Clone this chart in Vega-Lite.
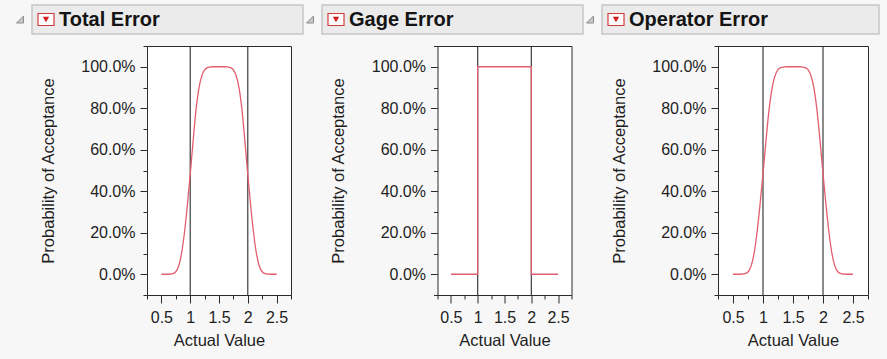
{
  "$schema": "https://vega.github.io/schema/vega-lite/v6.json",
  "background": "#f7f7f7",
  "padding": {"left": 13, "top": 4, "right": 10, "bottom": 16},
  "autosize": {"type": "pad"},
  "config": {
    "view": {"stroke": null},
    "font": "Liberation Sans",
    "axis": {
      "domain": false,
      "grid": false,
      "tickColor": "#2b2b2b",
      "tickWidth": 1,
      "labelColor": "#1e1e1e",
      "labelFont": "Liberation Sans",
      "labelFontSize": 16,
      "titleFont": "Liberation Sans",
      "titleFontSize": 16.5,
      "titleFontWeight": "normal",
      "titleColor": "#1e1e1e",
      "labelOverlap": false,
      "labelFlush": false
    }
  },
  "datasets": {
    "header": [{"part": "tri"}, {"part": "btn"}],
    "spacer": [],
    "limits": [{"limit": 1}, {"limit": 2}],
    "curves": [
      {"panel": "Total Error", "x": 0.5, "p": 0},
      {"panel": "Total Error", "x": 0.55, "p": 0},
      {"panel": "Total Error", "x": 0.6, "p": 0},
      {"panel": "Total Error", "x": 0.65, "p": 0.001},
      {"panel": "Total Error", "x": 0.7, "p": 0.003},
      {"panel": "Total Error", "x": 0.75, "p": 0.012},
      {"panel": "Total Error", "x": 0.8, "p": 0.04},
      {"panel": "Total Error", "x": 0.85, "p": 0.1},
      {"panel": "Total Error", "x": 0.9, "p": 0.2},
      {"panel": "Total Error", "x": 0.95, "p": 0.33},
      {"panel": "Total Error", "x": 1.0, "p": 0.48},
      {"panel": "Total Error", "x": 1.05, "p": 0.64},
      {"panel": "Total Error", "x": 1.1, "p": 0.79},
      {"panel": "Total Error", "x": 1.15, "p": 0.895},
      {"panel": "Total Error", "x": 1.2, "p": 0.955},
      {"panel": "Total Error", "x": 1.25, "p": 0.985},
      {"panel": "Total Error", "x": 1.3, "p": 0.996},
      {"panel": "Total Error", "x": 1.35, "p": 0.999},
      {"panel": "Total Error", "x": 1.4, "p": 1},
      {"panel": "Total Error", "x": 1.45, "p": 1},
      {"panel": "Total Error", "x": 1.5, "p": 1},
      {"panel": "Total Error", "x": 1.55, "p": 1},
      {"panel": "Total Error", "x": 1.6, "p": 1},
      {"panel": "Total Error", "x": 1.65, "p": 0.999},
      {"panel": "Total Error", "x": 1.7, "p": 0.996},
      {"panel": "Total Error", "x": 1.75, "p": 0.985},
      {"panel": "Total Error", "x": 1.8, "p": 0.955},
      {"panel": "Total Error", "x": 1.85, "p": 0.895},
      {"panel": "Total Error", "x": 1.9, "p": 0.79},
      {"panel": "Total Error", "x": 1.95, "p": 0.64},
      {"panel": "Total Error", "x": 2.0, "p": 0.48},
      {"panel": "Total Error", "x": 2.05, "p": 0.33},
      {"panel": "Total Error", "x": 2.1, "p": 0.2},
      {"panel": "Total Error", "x": 2.15, "p": 0.1},
      {"panel": "Total Error", "x": 2.2, "p": 0.04},
      {"panel": "Total Error", "x": 2.25, "p": 0.012},
      {"panel": "Total Error", "x": 2.3, "p": 0.003},
      {"panel": "Total Error", "x": 2.35, "p": 0.001},
      {"panel": "Total Error", "x": 2.4, "p": 0},
      {"panel": "Total Error", "x": 2.45, "p": 0},
      {"panel": "Total Error", "x": 2.5, "p": 0},
      {"panel": "Gage Error", "x": 0.5, "p": 0},
      {"panel": "Gage Error", "x": 1.0, "p": 0},
      {"panel": "Gage Error", "x": 1.0, "p": 1},
      {"panel": "Gage Error", "x": 2.0, "p": 1},
      {"panel": "Gage Error", "x": 2.0, "p": 0},
      {"panel": "Gage Error", "x": 2.5, "p": 0},
      {"panel": "Operator Error", "x": 0.5, "p": 0},
      {"panel": "Operator Error", "x": 0.55, "p": 0},
      {"panel": "Operator Error", "x": 0.6, "p": 0},
      {"panel": "Operator Error", "x": 0.65, "p": 0.001},
      {"panel": "Operator Error", "x": 0.7, "p": 0.003},
      {"panel": "Operator Error", "x": 0.75, "p": 0.011},
      {"panel": "Operator Error", "x": 0.8, "p": 0.038},
      {"panel": "Operator Error", "x": 0.85, "p": 0.098},
      {"panel": "Operator Error", "x": 0.9, "p": 0.2},
      {"panel": "Operator Error", "x": 0.95, "p": 0.335},
      {"panel": "Operator Error", "x": 1.0, "p": 0.485},
      {"panel": "Operator Error", "x": 1.05, "p": 0.645},
      {"panel": "Operator Error", "x": 1.1, "p": 0.79},
      {"panel": "Operator Error", "x": 1.15, "p": 0.895},
      {"panel": "Operator Error", "x": 1.2, "p": 0.956},
      {"panel": "Operator Error", "x": 1.25, "p": 0.986},
      {"panel": "Operator Error", "x": 1.3, "p": 0.996},
      {"panel": "Operator Error", "x": 1.35, "p": 0.999},
      {"panel": "Operator Error", "x": 1.4, "p": 1},
      {"panel": "Operator Error", "x": 1.45, "p": 1},
      {"panel": "Operator Error", "x": 1.5, "p": 1},
      {"panel": "Operator Error", "x": 1.55, "p": 1},
      {"panel": "Operator Error", "x": 1.6, "p": 1},
      {"panel": "Operator Error", "x": 1.65, "p": 0.999},
      {"panel": "Operator Error", "x": 1.7, "p": 0.996},
      {"panel": "Operator Error", "x": 1.75, "p": 0.986},
      {"panel": "Operator Error", "x": 1.8, "p": 0.956},
      {"panel": "Operator Error", "x": 1.85, "p": 0.895},
      {"panel": "Operator Error", "x": 1.9, "p": 0.79},
      {"panel": "Operator Error", "x": 1.95, "p": 0.645},
      {"panel": "Operator Error", "x": 2.0, "p": 0.485},
      {"panel": "Operator Error", "x": 2.05, "p": 0.335},
      {"panel": "Operator Error", "x": 2.1, "p": 0.2},
      {"panel": "Operator Error", "x": 2.15, "p": 0.098},
      {"panel": "Operator Error", "x": 2.2, "p": 0.038},
      {"panel": "Operator Error", "x": 2.25, "p": 0.011},
      {"panel": "Operator Error", "x": 2.3, "p": 0.003},
      {"panel": "Operator Error", "x": 2.35, "p": 0.001},
      {"panel": "Operator Error", "x": 2.4, "p": 0},
      {"panel": "Operator Error", "x": 2.45, "p": 0},
      {"panel": "Operator Error", "x": 2.5, "p": 0}
    ]
  },
  "spacing": 2,
  "vconcat": [
    {
      "hconcat": [
        {
          "width": 271, "height": 29,
          "view": {"fill": "#ebebeb", "stroke": "#c6c6c6", "strokeWidth": 1.5},
          "data": {"name": "header"},
          "layer": [
            {"transform": [{"filter": "datum.part == 'tri'"}], "mark": {"type": "point", "shape": "M 1 -1 L 1 1 L -1 1 Z", "filled": true, "fill": "#c8c8c8", "stroke": "#8c8c8c", "strokeWidth": 1, "size": 49, "opacity": 1}, "encoding": {"x": {"field": "part", "type": "nominal", "scale": {"type": "point", "domain": ["tri", "gap", "btn", "lbl"], "range": [-12, 27], "padding": 0}, "axis": null}}},
            {"transform": [{"filter": "datum.part == 'btn'"}], "mark": {"type": "point", "shape": "M -1 -0.75 L 1 -0.75 L 1 0.75 L -1 0.75 Z", "filled": true, "fill": "#ffffff", "stroke": "#d23a3a", "strokeWidth": 1.2, "size": 256, "opacity": 1}, "encoding": {"x": {"field": "part", "type": "nominal"}}},
            {"transform": [{"filter": "datum.part == 'btn'"}], "mark": {"type": "point", "shape": "triangle-down", "filled": true, "fill": "#d41e1e", "size": 40, "opacity": 1}, "encoding": {"x": {"field": "part", "type": "nominal"}}},
            {"data": {"values": [{"part": "lbl", "label": "Total Error"}]}, "mark": {"type": "text", "align": "left", "baseline": "middle", "font": "Liberation Sans", "fontSize": 20, "fontWeight": "bold", "color": "#141414"}, "encoding": {"x": {"field": "part", "type": "nominal"}, "text": {"field": "label"}}}
          ]
        },
        {
          "width": 261, "height": 29,
          "view": {"fill": "#ebebeb", "stroke": "#c6c6c6", "strokeWidth": 1.5},
          "data": {"name": "header"},
          "layer": [
            {"transform": [{"filter": "datum.part == 'tri'"}], "mark": {"type": "point", "shape": "M 1 -1 L 1 1 L -1 1 Z", "filled": true, "fill": "#c8c8c8", "stroke": "#8c8c8c", "strokeWidth": 1, "size": 49, "opacity": 1}, "encoding": {"x": {"field": "part", "type": "nominal", "scale": {"type": "point", "domain": ["tri", "gap", "btn", "lbl"], "range": [-12, 27], "padding": 0}, "axis": null}}},
            {"transform": [{"filter": "datum.part == 'btn'"}], "mark": {"type": "point", "shape": "M -1 -0.75 L 1 -0.75 L 1 0.75 L -1 0.75 Z", "filled": true, "fill": "#ffffff", "stroke": "#d23a3a", "strokeWidth": 1.2, "size": 256, "opacity": 1}, "encoding": {"x": {"field": "part", "type": "nominal"}}},
            {"transform": [{"filter": "datum.part == 'btn'"}], "mark": {"type": "point", "shape": "triangle-down", "filled": true, "fill": "#d41e1e", "size": 40, "opacity": 1}, "encoding": {"x": {"field": "part", "type": "nominal"}}},
            {"data": {"values": [{"part": "lbl", "label": "Gage Error"}]}, "mark": {"type": "text", "align": "left", "baseline": "middle", "font": "Liberation Sans", "fontSize": 20, "fontWeight": "bold", "color": "#141414"}, "encoding": {"x": {"field": "part", "type": "nominal"}, "text": {"field": "label"}}}
          ]
        },
        {
          "width": 277, "height": 29,
          "view": {"fill": "#ebebeb", "stroke": "#c6c6c6", "strokeWidth": 1.5},
          "data": {"name": "header"},
          "layer": [
            {"transform": [{"filter": "datum.part == 'tri'"}], "mark": {"type": "point", "shape": "M 1 -1 L 1 1 L -1 1 Z", "filled": true, "fill": "#c8c8c8", "stroke": "#8c8c8c", "strokeWidth": 1, "size": 49, "opacity": 1}, "encoding": {"x": {"field": "part", "type": "nominal", "scale": {"type": "point", "domain": ["tri", "gap", "btn", "lbl"], "range": [-12, 27], "padding": 0}, "axis": null}}},
            {"transform": [{"filter": "datum.part == 'btn'"}], "mark": {"type": "point", "shape": "M -1 -0.75 L 1 -0.75 L 1 0.75 L -1 0.75 Z", "filled": true, "fill": "#ffffff", "stroke": "#d23a3a", "strokeWidth": 1.2, "size": 256, "opacity": 1}, "encoding": {"x": {"field": "part", "type": "nominal"}}},
            {"transform": [{"filter": "datum.part == 'btn'"}], "mark": {"type": "point", "shape": "triangle-down", "filled": true, "fill": "#d41e1e", "size": 40, "opacity": 1}, "encoding": {"x": {"field": "part", "type": "nominal"}}},
            {"data": {"values": [{"part": "lbl", "label": "Operator Error"}]}, "mark": {"type": "text", "align": "left", "baseline": "middle", "font": "Liberation Sans", "fontSize": 20, "fontWeight": "bold", "color": "#141414"}, "encoding": {"x": {"field": "part", "type": "nominal"}, "text": {"field": "label"}}}
          ]
        }
      ],
      "spacing": 19,
      "bounds": "flush"
    },
    {
      "spacing": 0,
      "hconcat": [
        {"width": 5, "height": 10, "data": {"name": "spacer"}, "mark": "point", "encoding": {}},
        {
          "spacing": 35.5,
          "hconcat": [
            {
              "width": 144, "height": 249,
              "view": {"fill": "#ffffff", "stroke": "#2b2b2b", "strokeWidth": 1},
              "resolve": {"axis": {"x": "independent"}},
              "layer": [
                {"data": {"name": "limits"}, "mark": {"type": "rule", "color": "#2b2b2b", "strokeWidth": 1.1}, "encoding": {"x": {"field": "limit", "type": "quantitative", "scale": {"domain": [0.25, 2.75], "nice": false, "zero": false}, "axis": {"orient": "bottom", "title": null, "labels": false, "values": [0.25, 0.75, 1.25, 1.75, 2.25, 2.75], "tickSize": 4}}}},
                {"data": {"name": "curves"}, "transform": [{"filter": "datum.panel == 'Total Error'"}], "mark": {"type": "line", "color": "#e35d6f", "strokeWidth": 1.3, "interpolate": "monotone"}, "encoding": {"x": {"field": "x", "type": "quantitative", "axis": {"orient": "bottom", "title": "Actual Value", "values": [0.5, 1, 1.5, 2, 2.5], "format": "~g", "tickSize": 8, "labelPadding": 6, "titlePadding": 7}}, "y": {"field": "p", "type": "quantitative", "scale": {"domain": [-0.1, 1.1], "nice": false, "zero": false}, "axis": {"title": "Probability of Acceptance", "values": [-0.1, 0, 0.1, 0.2, 0.3, 0.4, 0.5, 0.6, 0.7, 0.8, 0.9, 1, 1.1], "labelExpr": "round(datum.value*10) % 2 == 0 ? format(datum.value, '.1%') : ''", "tickSize": {"condition": {"test": "round(datum.value*10) % 2 == 0", "value": 7}, "value": 4}, "labelPadding": 5, "minExtent": 109, "titlePadding": -18}}}}
              ]
            },
            {
              "width": 134, "height": 249,
              "view": {"fill": "#ffffff", "stroke": "#2b2b2b", "strokeWidth": 1},
              "resolve": {"axis": {"x": "independent"}},
              "layer": [
                {"data": {"name": "limits"}, "mark": {"type": "rule", "color": "#2b2b2b", "strokeWidth": 1.1}, "encoding": {"x": {"field": "limit", "type": "quantitative", "scale": {"domain": [0.25, 2.75], "nice": false, "zero": false}, "axis": {"orient": "bottom", "title": null, "labels": false, "values": [0.25, 0.75, 1.25, 1.75, 2.25, 2.75], "tickSize": 4}}}},
                {"data": {"name": "curves"}, "transform": [{"filter": "datum.panel == 'Gage Error'"}], "mark": {"type": "line", "color": "#e35d6f", "strokeWidth": 1.3}, "encoding": {"x": {"field": "x", "type": "quantitative", "axis": {"orient": "bottom", "title": "Actual Value", "values": [0.5, 1, 1.5, 2, 2.5], "format": "~g", "tickSize": 8, "labelPadding": 6, "titlePadding": 7}}, "y": {"field": "p", "type": "quantitative", "scale": {"domain": [-0.1, 1.1], "nice": false, "zero": false}, "axis": {"title": "Probability of Acceptance", "values": [-0.1, 0, 0.1, 0.2, 0.3, 0.4, 0.5, 0.6, 0.7, 0.8, 0.9, 1, 1.1], "labelExpr": "round(datum.value*10) % 2 == 0 ? format(datum.value, '.1%') : ''", "tickSize": {"condition": {"test": "round(datum.value*10) % 2 == 0", "value": 7}, "value": 4}, "labelPadding": 5, "minExtent": 109, "titlePadding": -18}}}}
              ]
            },
            {
              "width": 150, "height": 249,
              "view": {"fill": "#ffffff", "stroke": "#2b2b2b", "strokeWidth": 1},
              "resolve": {"axis": {"x": "independent"}},
              "layer": [
                {"data": {"name": "limits"}, "mark": {"type": "rule", "color": "#2b2b2b", "strokeWidth": 1.1}, "encoding": {"x": {"field": "limit", "type": "quantitative", "scale": {"domain": [0.25, 2.75], "nice": false, "zero": false}, "axis": {"orient": "bottom", "title": null, "labels": false, "values": [0.25, 0.75, 1.25, 1.75, 2.25, 2.75], "tickSize": 4}}}},
                {"data": {"name": "curves"}, "transform": [{"filter": "datum.panel == 'Operator Error'"}], "mark": {"type": "line", "color": "#e35d6f", "strokeWidth": 1.3, "interpolate": "monotone"}, "encoding": {"x": {"field": "x", "type": "quantitative", "axis": {"orient": "bottom", "title": "Actual Value", "values": [0.5, 1, 1.5, 2, 2.5], "format": "~g", "tickSize": 8, "labelPadding": 6, "titlePadding": 7}}, "y": {"field": "p", "type": "quantitative", "scale": {"domain": [-0.1, 1.1], "nice": false, "zero": false}, "axis": {"title": "Probability of Acceptance", "values": [-0.1, 0, 0.1, 0.2, 0.3, 0.4, 0.5, 0.6, 0.7, 0.8, 0.9, 1, 1.1], "labelExpr": "round(datum.value*10) % 2 == 0 ? format(datum.value, '.1%') : ''", "tickSize": {"condition": {"test": "round(datum.value*10) % 2 == 0", "value": 7}, "value": 4}, "labelPadding": 5, "minExtent": 109, "titlePadding": -18}}}}
              ]
            }
          ]
        }
      ]
    }
  ]
}
